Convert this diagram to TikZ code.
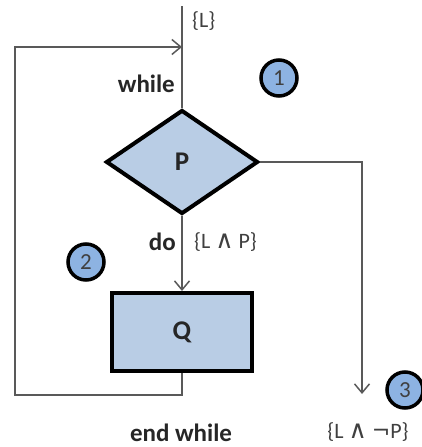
\documentclass[tikz,border=0pt]{standalone}
\usepackage{fontspec}
\setmainfont{Carlito}
\newfontfamily\dejavu{DejaVu Sans}
\usetikzlibrary{shapes.geometric,arrows.meta}
\definecolor{boxfill}{HTML}{B9CDE5}
\definecolor{circfill}{HTML}{8DB3E2}
\definecolor{linegray}{HTML}{595959}
\definecolor{txtgray}{HTML}{404040}
\newcommand{\andsym}{{\dejavu\fontsize{25}{27}\selectfont ∧}}
\newcommand{\notsym}{{\dejavu\fontsize{22}{24}\selectfont ¬}}
\tikzset{
  shapebox/.style={draw=black, line width=4pt, fill=boxfill, font=\fontsize{27}{29}\selectfont\bfseries, text=black!85},
  numcirc/.style={circle, draw=black, line width=3.5pt, fill=circfill, minimum size=36pt, inner sep=0pt, font=\fontsize{23}{25}\selectfont, text=txtgray},
  conn/.style={draw=linegray, line width=1.5pt},
  arr/.style={conn, -{Straight Barb[length=9pt,width=15pt,line width=1.5pt]}},
  kw/.style={font=\fontsize{25}{27}\selectfont\bfseries, text=black!85, inner sep=0pt},
  cond/.style={font=\fontsize{22}{24}\selectfont, text=txtgray, inner sep=0pt}
}
\begin{document}
\begin{tikzpicture}[x=1pt,y=-1pt]
\useasboundingbox (0,0) rectangle (422,447);
\node[shapebox, diamond, minimum width=152pt, minimum height=104pt, inner sep=0pt] (P) at (182,162) {P};
\node[shapebox, rectangle, minimum width=140pt, minimum height=78pt] (Q) at (182,332) {Q};
\node[numcirc] (c1) at (279,78) {1};
\node[numcirc] (c2) at (86,262) {2};
\node[numcirc] (c3) at (405,390) {3};
\coordinate (top) at (182,6);
\coordinate (entry) at (182,47);
\coordinate (tl) at (15,47);
\coordinate (bl) at (15,395);
\coordinate (br) at (182,395);
\coordinate (tr) at (362,162);
\coordinate (exit) at (362,394);
\draw[conn] (top) -- (P.north);
\draw[arr] (Q.south) -- (br) -- (bl) -- (tl) -- (entry);
\draw[arr] (P.south) -- (Q.north);
\draw[arr] (P.east) -- (tr) -- (exit);
\node[cond, anchor=west] (L) at (192,21) {\{L\}};
\node[kw, anchor=east] (while) at (175,84) {while};
\node[kw, anchor=east] (do) at (176,242) {do};
\node[cond, anchor=west] (LP) at (194,242) {\{L \andsym\ P\}};
\node[kw] (endwhile) at (181,433) {end while};
\node[cond] (LnP) at (368,432) {\{L \andsym\ \notsym P\}};
\end{tikzpicture}
\end{document}
